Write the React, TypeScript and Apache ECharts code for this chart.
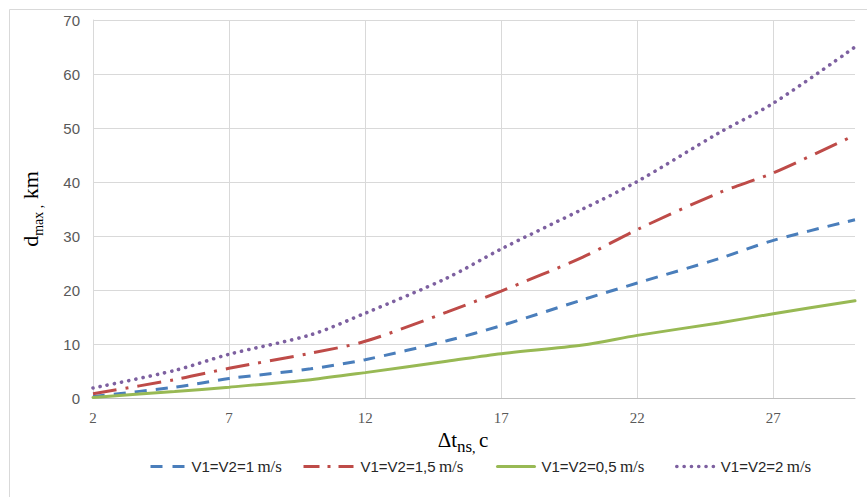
import { useEffect, useRef } from 'react';
import * as echarts from 'echarts';

const xValues = [2, 5, 7, 10, 12, 15, 17, 20, 22, 25, 27, 30];
const xTicks = [2, 7, 12, 17, 22, 27];
const yTicks = [0, 10, 20, 30, 40, 50, 60, 70];

const v1 = [0.3, 2.0, 3.6, 5.4, 7.1, 10.6, 13.4, 18.2, 21.3, 25.8, 29.2, 33.0];
const v15 = [0.8, 3.4, 5.5, 8.3, 10.5, 15.9, 19.8, 26.1, 31.2, 38.0, 41.7, 48.7];
const v05 = [0.1, 1.2, 2.0, 3.4, 4.7, 6.8, 8.2, 9.8, 11.6, 13.9, 15.6, 18.0];
const v2 = [1.85, 5.1, 8.1, 11.7, 15.7, 22.2, 27.6, 35.0, 40.1, 49.1, 54.6, 65.0];

const seriesNames = ['V1=V2=1', 'V1=V2=1,5', 'V1=V2=0,5', 'V1=V2=2'];
const seriesValues = [v1, v15, v05, v2];
const colors = ['#4a7ebb', '#be4b48', '#98b954', '#7d60a0'];
const widths = [3, 3, 3, 3.6];
const dashTypes: any[] = [[12, 9], [24, 9, 3, 9], 'solid', [0.1, 7.2]];
const caps: any[] = ['butt', 'butt', 'round', 'round'];
const legendLefts = [149, 302, 496, 675];
const legendWidths = [34, 50, 37, 37];
const legendDash: any[] = [[12, 10], [16, 8, 3, 8], 'solid', [0.1, 7.2]];

const fullName = (n: string) => `${n} m/s`;

export default function App() {
  const ref = useRef<HTMLDivElement>(null);
  useEffect(() => {
    const chart = echarts.init(ref.current!, null, { renderer: 'svg' });
    const series = seriesNames.map((n, i) => ({
      name: fullName(n),
      type: 'line',
      symbol: 'none',
      smooth: 0.3,
      data: xValues.map((x, j) => [x, seriesValues[i][j]]),
      lineStyle: { color: colors[i], width: widths[i], type: dashTypes[i], cap: caps[i] },
      itemStyle: { color: colors[i] },
      z: 2 + i,
    }));
    const legends = seriesNames.map((n, i) => ({
      data: [fullName(n)],
      left: legendLefts[i],
      top: 458,
      itemWidth: legendWidths[i],
      itemHeight: 14,
      itemGap: 0,
      padding: 0,
      selectedMode: false,
      itemStyle: { opacity: 0, color: 'transparent', borderColor: 'transparent', borderWidth: 0 },
      lineStyle: { type: legendDash[i], width: widths[i], cap: caps[i], color: colors[i], opacity: 1 },
      formatter: (name: string) => `{a|${name.replace(' m/s', '')}} {b|m/s}`,
      textStyle: {
        padding: [0, 0, 0, 2],
        rich: {
          a: { fontFamily: 'Liberation Sans', fontSize: 15, color: '#262626' },
          b: { fontFamily: 'Liberation Serif', fontSize: 17, color: '#262626' },
        },
      },
    }));
    chart.setOption({
      animation: false,
      backgroundColor: '#ffffff',
      grid: { left: 93, top: 20, right: 12, bottom: 99, containLabel: false },
      legend: legends,
      xAxis: {
        type: 'value',
        min: 2,
        max: 30,
        name: '{a|Δt}{b|ns}{c|, }{a|c}',
        nameLocation: 'middle',
        nameGap: 27,
        nameTextStyle: {
          padding: [0, 22, 0, 0],
          rich: {
            a: { fontFamily: 'Liberation Serif', fontSize: 21, color: '#000', lineHeight: 30, verticalAlign: 'middle' },
            b: { fontFamily: 'Liberation Serif', fontSize: 17, color: '#000', lineHeight: 16, verticalAlign: 'bottom' },
            c: { fontFamily: 'Liberation Serif', fontSize: 14, color: '#000', lineHeight: 20, verticalAlign: 'bottom' },
          },
        },
        axisLine: { show: true, lineStyle: { color: '#bfbfbf', width: 1 } },
        axisTick: { show: false, customValues: xTicks },
        axisLabel: {
          customValues: xTicks,
          fontFamily: 'Liberation Serif',
          fontSize: 15,
          color: '#595959',
          margin: 12,
        },
        splitLine: { show: true, lineStyle: { color: '#d9d9d9', width: 1 } },
      },
      yAxis: {
        type: 'value',
        min: 0,
        max: 70,
        interval: 10,
        name: '{a|d}{b|max ,}{a| km}',
        nameLocation: 'middle',
        nameGap: 48,
        nameTextStyle: {
          rich: {
            a: { fontFamily: 'Liberation Serif', fontSize: 22, color: '#000', lineHeight: 30, verticalAlign: 'middle' },
            b: { fontFamily: 'Liberation Serif', fontSize: 14, color: '#000', lineHeight: 14, verticalAlign: 'bottom' },
          },
        },
        axisLine: { show: true, lineStyle: { color: '#d9d9d9', width: 1 } },
        axisTick: { show: false },
        axisLabel: {
          fontFamily: 'Liberation Sans',
          fontSize: 15,
          color: '#595959',
          margin: 13,
          customValues: yTicks,
        },
        splitLine: { show: true, lineStyle: { color: '#d9d9d9', width: 1 } },
      },
      graphic: [
        {
          type: 'rect',
          shape: { x: 9.5, y: 9.5, width: 900, height: 520 },
          style: { fill: 'none', stroke: '#d9d9d9', lineWidth: 1 },
          silent: true,
          z: -1,
        },
      ],
      series,
    });
    return () => chart.dispose();
  }, []);
  return (
    <div
      ref={ref}
      style={{ width: 867, height: 497, position: 'absolute', left: 0, top: 0 }}
    />
  );
}
